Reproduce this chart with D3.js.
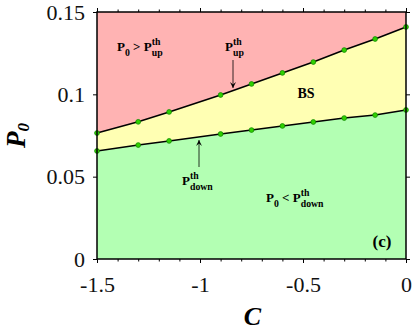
<!DOCTYPE html>
<html lang="en">
<head>
    <style>
        body { margin: 0; background: white; }
        svg { display: block; }
    </style>
    <script src="https://d3js.org/d3.v7.min.js"></script>
</head>
<body>
    <svg id="chart"></svg>
    <script>
        // values
        var C_VALUES = [-1.5, -1.3, -1.15, -0.9, -0.75, -0.6, -0.45, -0.3, -0.15, 0];
        var P_UP = [0.0765, 0.0833, 0.0893, 0.0996, 0.1063, 0.1130, 0.1196, 0.1269, 0.1336, 0.1409];
        var P_DOWN = [0.0656, 0.0692, 0.0717, 0.0759, 0.0783, 0.0808, 0.0832, 0.0856, 0.0874, 0.0905];
        var X_TICKS = [-1.5, -1, -0.5, 0];
        var X_MINOR = d3.range(-15, 1).map(function (d) { return d / 10; });
        var Y_TICKS = [0, 0.05, 0.1, 0.15];

        var W = 415, H = 331;
        var margin = {top: 12, right: 9, bottom: 72, left: 97};

        var svg = d3.select("#chart").attr("width", W).attr("height", H);

        var x = d3.scaleLinear().domain([-1.5, 0]).range([margin.left, W - margin.right]);
        var y = d3.scaleLinear().domain([0, 0.15]).range([H - margin.bottom, margin.top]);

        var rows = C_VALUES.map(function (c, i) { return {c: c, up: P_UP[i], down: P_DOWN[i]}; });

        // coloured regions
        var areaTop = d3.area().x(d => x(d.c)).y0(y(0.15)).y1(d => y(d.up));
        var areaMid = d3.area().x(d => x(d.c)).y0(d => y(d.down)).y1(d => y(d.up));
        var areaBot = d3.area().x(d => x(d.c)).y0(y(0)).y1(d => y(d.down));
        svg.append("path").attr("d", areaTop(rows)).attr("fill", "#ffb3b3");
        svg.append("path").attr("d", areaMid(rows)).attr("fill", "#ffffb3");
        svg.append("path").attr("d", areaBot(rows)).attr("fill", "#b3ffb3");

        // threshold curves
        var lineUp = d3.line().x(d => x(d.c)).y(d => y(d.up));
        var lineDown = d3.line().x(d => x(d.c)).y(d => y(d.down));
        svg.append("path").attr("d", lineUp(rows)).attr("fill", "none").attr("stroke", "black").attr("stroke-width", 1.6);
        svg.append("path").attr("d", lineDown(rows)).attr("fill", "none").attr("stroke", "black").attr("stroke-width", 1.6);

        ["up", "down"].forEach(function (k) {
            svg.append("g").selectAll("circle").data(rows).join("circle")
                .attr("cx", d => x(d.c))
                .attr("cy", d => y(d[k]))
                .attr("r", 2.4)
                .attr("fill", "#2fd000")
                .attr("stroke", "#128a00")
                .attr("stroke-width", 0.8);
        });

        // axes
        var tickFont = "'Liberation Serif', 'Times New Roman', serif";
        function styleAxis(g) {
            g.select(".domain").remove();
            g.selectAll("line").attr("stroke", "black").attr("stroke-width", 1);
            g.selectAll("text").attr("font-family", tickFont).attr("font-size", 22).attr("fill", "#111");
        }
        var bottomY = y(0), topY = y(0.15);
        svg.append("g").attr("transform", `translate(0,${bottomY})`)
            .call(d3.axisBottom(x).tickValues(X_MINOR).tickSize(2.5).tickFormat(""))
            .call(styleAxis);
        svg.append("g").attr("transform", `translate(0,${topY})`)
            .call(d3.axisTop(x).tickValues(X_MINOR).tickSize(2.5).tickFormat(""))
            .call(styleAxis);
        svg.append("g").attr("transform", `translate(0,${bottomY})`)
            .call(d3.axisBottom(x).tickValues(X_TICKS).tickSize(4).tickPadding(13).tickFormat(d => String(d)))
            .call(styleAxis);
        svg.append("g").attr("transform", `translate(0,${topY})`)
            .call(d3.axisTop(x).tickValues(X_TICKS).tickSize(4).tickFormat(""))
            .call(styleAxis);
        svg.append("g").attr("transform", `translate(${x(-1.5)},0)`)
            .call(d3.axisLeft(y).tickValues(Y_TICKS).tickSize(4).tickPadding(8).tickFormat(d => String(d)))
            .call(styleAxis);
        svg.append("g").attr("transform", `translate(${x(0)},0)`)
            .call(d3.axisRight(y).tickValues(Y_TICKS).tickSize(4).tickFormat(""))
            .call(styleAxis);

        // frame
        svg.append("rect")
            .attr("x", x(-1.5)).attr("y", topY)
            .attr("width", x(0) - x(-1.5)).attr("height", bottomY - topY)
            .attr("fill", "none").attr("stroke", "black").attr("stroke-width", 1.5);

        // axis titles
        var labFont = "'Liberation Serif', 'Times New Roman', serif";
        svg.append("text")
            .attr("x", (x(-1.5) + x(0)) / 2 + 1).attr("y", 325)
            .attr("text-anchor", "middle")
            .attr("font-family", labFont).attr("font-size", 26)
            .attr("font-weight", "bold").attr("font-style", "italic")
            .text("C");
        var yl = svg.append("text")
            .attr("transform", `translate(25,${(topY + bottomY) / 2}) rotate(-90)`)
            .attr("text-anchor", "middle")
            .attr("font-family", labFont).attr("font-weight", "bold").attr("font-style", "italic");
        yl.append("tspan").attr("font-size", 27).text("P");
        yl.append("tspan").attr("font-size", 17).attr("dy", 4).text("0");

        // in-plot annotations: parts are plain text, subscript, or sup/sub stacked
        function label(px, py, parts, size) {
            var cx = px;
            var g = svg.append("g")
                .attr("font-family", labFont).attr("font-weight", "bold").attr("fill", "black");
            parts.forEach(function (p) {
                if (p.t !== undefined) {
                    var t = g.append("text").attr("x", cx).attr("y", py + (p.sub ? 5 : 0))
                        .attr("font-size", p.sub ? size * 0.75 : size)
                        .attr("xml:space", "preserve").text(p.t);
                    cx += t.node().getComputedTextLength();
                } else {
                    var a = g.append("text").attr("x", cx).attr("y", py - 6)
                        .attr("font-size", size * 0.75).text(p.sup);
                    var b = g.append("text").attr("x", cx).attr("y", py + 5)
                        .attr("font-size", size * 0.75).text(p.sub2);
                    cx += Math.max(a.node().getComputedTextLength(), b.node().getComputedTextLength());
                }
            });
        }
        var fs = 13;
        label(117, 51, [{t: "P"}, {t: "0", sub: true}, {t: " > "}, {t: "P"}, {sup: "th", sub2: "up"}], fs);
        label(225, 51, [{t: "P"}, {sup: "th", sub2: "up"}], fs);
        label(182, 185, [{t: "P"}, {sup: "th", sub2: "down"}], fs);
        label(266, 202, [{t: "P"}, {t: "0", sub: true}, {t: " < "}, {t: "P"}, {sup: "th", sub2: "down"}], fs);
        svg.append("text").attr("x", 306).attr("y", 98).attr("text-anchor", "middle")
            .attr("font-family", labFont).attr("font-weight", "bold").attr("font-size", 14).text("BS");
        svg.append("text").attr("x", 382).attr("y", 247).attr("text-anchor", "middle")
            .attr("font-family", labFont).attr("font-weight", "bold").attr("font-size", 17).text("(c)");

        // arrows pointing at the curves
        svg.append("defs").append("marker")
            .attr("id", "head").attr("viewBox", "0 0 10 10")
            .attr("refX", 10).attr("refY", 5)
            .attr("markerWidth", 6).attr("markerHeight", 7)
            .attr("markerUnits", "userSpaceOnUse")
            .attr("orient", "auto")
            .append("path").attr("d", "M0,0 L10,5 L0,10 L4,5 Z").attr("fill", "black");
        svg.append("line").attr("x1", 233).attr("y1", 60).attr("x2", 233).attr("y2", 88)
            .attr("stroke", "black").attr("stroke-width", 0.8).attr("marker-end", "url(#head)");
        svg.append("line").attr("x1", 199).attr("y1", 167).attr("x2", 199).attr("y2", 140)
            .attr("stroke", "black").attr("stroke-width", 0.8).attr("marker-end", "url(#head)");
    </script>
</body>
</html>
